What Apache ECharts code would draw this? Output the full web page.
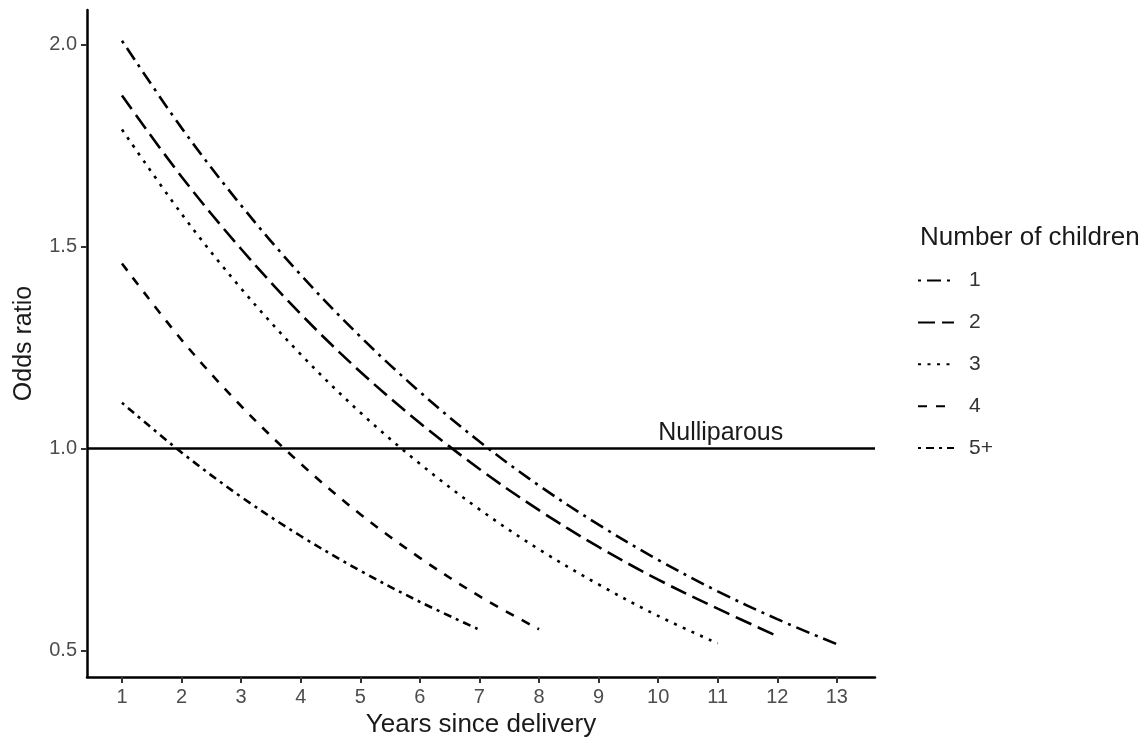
<!DOCTYPE html>
<html>
<head>
<meta charset="utf-8">
<script src="https://cdn.jsdelivr.net/npm/echarts@6/dist/echarts.min.js"></script>
<style>
html,body{margin:0;padding:0;background:#fff;}
#chart{width:1146px;height:743px;}
</style>
</head>
<body>
<div id="chart"></div>
<script>
const years = [1,2,3,4,5,6,7,8,9,10,11,12,13];
const seriesNames = ['1','2','3','4','5+'];
const or1 = [2.01,1.794,1.602,1.430,1.277,1.140,1.017,0.908,0.811,0.724,0.646,0.577,0.515];
const or2 = [1.874,1.673,1.494,1.333,1.190,1.063,0.949,0.847,0.756,0.675,0.603,0.535];
const or3 = [1.79,1.581,1.396,1.233,1.089,0.962,0.849,0.750,0.663,0.585,0.517];
const or4 = [1.458,1.269,1.105,0.962,0.837,0.729,0.634,0.552];
const or5 = [1.113,0.990,0.880,0.783,0.697,0.620,0.551];
const referenceValue = 1.0;
const referenceLabel = 'Nulliparous';
const referenceLabelYear = 11.05;
const xTicks = [1,2,3,4,5,6,7,8,9,10,11,12,13];
const yTicks = [0.5,1.0,1.5,2.0];

const allData = [or1, or2, or3, or4, or5];
const dashes = [[3,6,14,6],[17,7],[3,6.5],[9,9],[3,5,8,5]];

const font = '"Liberation Sans", Arial, sans-serif';
const chart = echarts.init(document.getElementById('chart'));

const series = allData.map((arr, i) => ({
  name: seriesNames[i],
  type: 'line',
  smooth: 0.35,
  symbol: 'none',
  data: arr.map((v, j) => [years[j], v]),
  lineStyle: {color: '#000', width: 2.6, type: dashes[i], cap: 'butt'},
  itemStyle: {color: '#000'},
  z: 3
}));

series.push({
  name: 'ref',
  type: 'line',
  data: [],
  silent: true,
  markLine: {
    silent: true,
    symbol: 'none',
    label: {show: false},
    lineStyle: {color: '#000', width: 2.5, type: 'solid'},
    data: [{yAxis: referenceValue}]
  },
  markPoint: {
    symbol: 'circle',
    symbolSize: 0,
    silent: true,
    label: {
      show: true, position: 'top', distance: 3,
      formatter: referenceLabel, color: '#1a1a1a', fontSize: 25, fontFamily: font
    },
    data: [{coord: [referenceLabelYear, referenceValue]}]
  }
});

chart.setOption({
  animation: false,
  backgroundColor: '#fff',
  grid: {left: 87, right: 271, top: 10, bottom: 63, containLabel: false},
  title: {
    text: 'Number of children',
    left: 915, top: 220,
    textStyle: {fontSize: 26, fontWeight: 'normal', color: '#1a1a1a', fontFamily: font}
  },
  legend: {
    orient: 'vertical',
    left: 912, top: 265,
    data: seriesNames,
    itemWidth: 36, itemHeight: 18, itemGap: 20.9,
    itemStyle: {opacity: 0},
    textStyle: {fontSize: 21, color: '#333', fontFamily: font, padding: [0,0,0,10]}
  },
  xAxis: {
    type: 'value',
    min: 0.413, max: 13.64,
    name: 'Years since delivery',
    nameLocation: 'middle', nameGap: 33,
    nameTextStyle: {fontSize: 26, color: '#1a1a1a', fontFamily: font},
    axisLine: {show: true, onZero: false, lineStyle: {color: '#000', width: 2.5}},
    axisTick: {show: true, length: 6, lineStyle: {color: '#333', width: 2}, customValues: xTicks},
    axisLabel: {show: true, fontSize: 20, color: '#4d4d4d', fontFamily: font, margin: 10, customValues: xTicks,
      formatter: v => String(v)},
    splitLine: {show: false}
  },
  yAxis: {
    type: 'value',
    min: 0.4335, max: 2.086,
    name: 'Odds ratio',
    nameLocation: 'middle', nameGap: 50, nameRotate: 90,
    nameTextStyle: {fontSize: 25, color: '#1a1a1a', fontFamily: font},
    axisLine: {show: true, onZero: false, lineStyle: {color: '#000', width: 2.5}},
    axisTick: {show: true, length: 6, lineStyle: {color: '#333', width: 2}, customValues: yTicks},
    axisLabel: {show: true, fontSize: 20, color: '#4d4d4d', fontFamily: font, margin: 10, customValues: yTicks,
      formatter: v => v.toFixed(1)},
    splitLine: {show: false}
  },
  series: series
});
</script>
</body>
</html>
